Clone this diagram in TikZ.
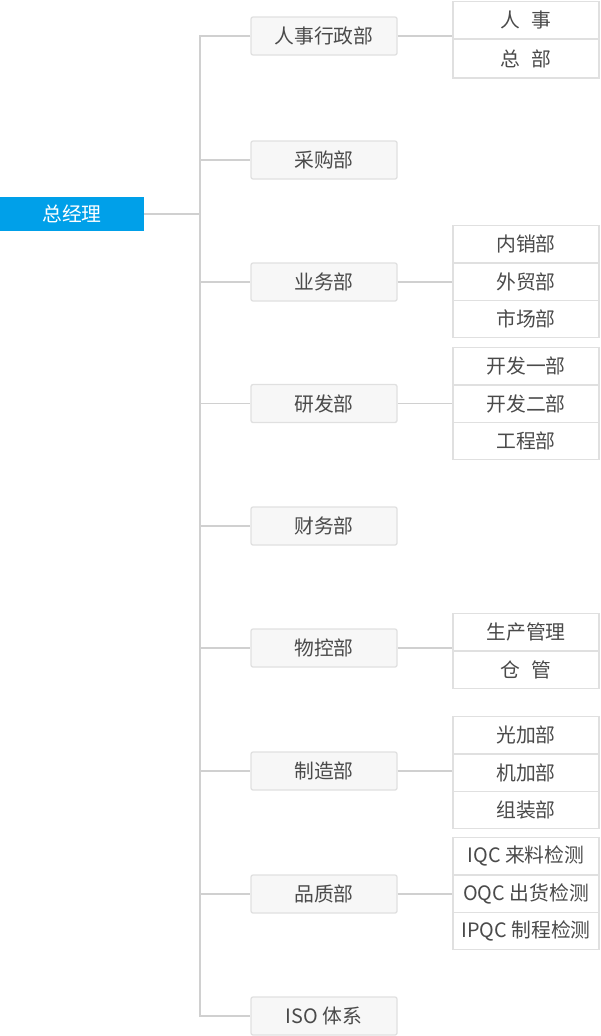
\documentclass[tikz,border=0pt]{standalone}
\usepackage{fontspec}
\setmainfont{Noto Sans CJK SC}
\definecolor{linec}{HTML}{D0D0D0}
\definecolor{boxb}{HTML}{E0E0E0}
\definecolor{boxf}{HTML}{F7F7F7}
\definecolor{txt}{HTML}{4A4A4A}
\definecolor{rootc}{HTML}{00A0E9}
\begin{document}
\begin{tikzpicture}[x=1pt,y=-1pt,
  conn/.style={draw=linec, line width=1.6pt},
  mid/.style={draw=boxb, fill=boxf, line width=1.3pt, rounded corners=2pt, minimum width=146pt, minimum height=38pt, inner sep=0pt, text=txt, font=\fontsize{19.8}{20}\selectfont},
  sub/.style={draw=boxb, fill=white, line width=1.3pt, minimum width=146pt, minimum height=37.3pt, inner sep=0pt, text=txt, font=\fontsize{19.8}{20}\selectfont, anchor=north},
  rootbox/.style={fill=rootc, minimum width=144pt, minimum height=34pt, inner sep=0pt, text=white, font=\fontsize{19.8}{20}\selectfont}
]
\useasboundingbox (0,0) rectangle (600,1036);
\node[rootbox] (root) at (72,214) {总经理};
\node[mid] (m1) at (324,36) {人事行政部};
\node[mid] (m2) at (324,160) {采购部};
\node[mid] (m3) at (324,282) {业务部};
\node[mid] (m4) at (324,403.5) {研发部};
\node[mid] (m5) at (324,526) {财务部};
\node[mid] (m6) at (324,648) {物控部};
\node[mid] (m7) at (324,771) {制造部};
\node[mid] (m8) at (324,894) {品质部};
\node[mid] (m9) at (324,1016) {ISO 体系};
% right groups
\node[sub] (a1) at (526,1) {人\hspace{0.6em}事};
\node[sub, minimum height=39pt] (a2) at (526,38.3) {总\hspace{0.6em}部};
\node[sub] (b1) at (526,225) {内销部};
\node[sub] (b2) at (526,262.3) {外贸部};
\node[sub] (b3) at (526,299.6) {市场部};
\node[sub] (c1) at (526,347) {开发一部};
\node[sub] (c2) at (526,384.3) {开发二部};
\node[sub] (c3) at (526,421.6) {工程部};
\node[sub] (d1) at (526,613) {生产管理};
\node[sub] (d2) at (526,650.3) {仓\hspace{0.6em}管};
\node[sub] (e1) at (526,716) {光加部};
\node[sub] (e2) at (526,753.3) {机加部};
\node[sub] (e3) at (526,790.6) {组装部};
\node[sub] (f1) at (526,837) {IQC 来料检测};
\node[sub] (f2) at (526,874.3) {OQC 出货检测};
\node[sub] (f3) at (526,911.6) {IPQC 制程检测};
% connectors
\coordinate (tx) at (200,0);
\draw[conn] (m1.west) -- (m1.west -| tx) -- (m9.west -| tx) -- (m9.west);
\draw[conn] (root.east) -- (root.east -| tx);
\foreach \m in {m2,m3,m4,m5,m6,m7,m8} {
  \draw[conn] (\m.west -| tx) -- (\m.west);
}
\draw[conn] (m1.east) -- (m1.east -| a1.west);
\draw[conn] (m3.east) -- (m3.east -| b1.west);
\draw[conn] (m4.east) -- (m4.east -| c1.west);
\draw[conn] (m6.east) -- (m6.east -| d1.west);
\draw[conn] (m7.east) -- (m7.east -| e1.west);
\draw[conn] (m8.east) -- (m8.east -| f1.west);
\end{tikzpicture}
\end{document}
